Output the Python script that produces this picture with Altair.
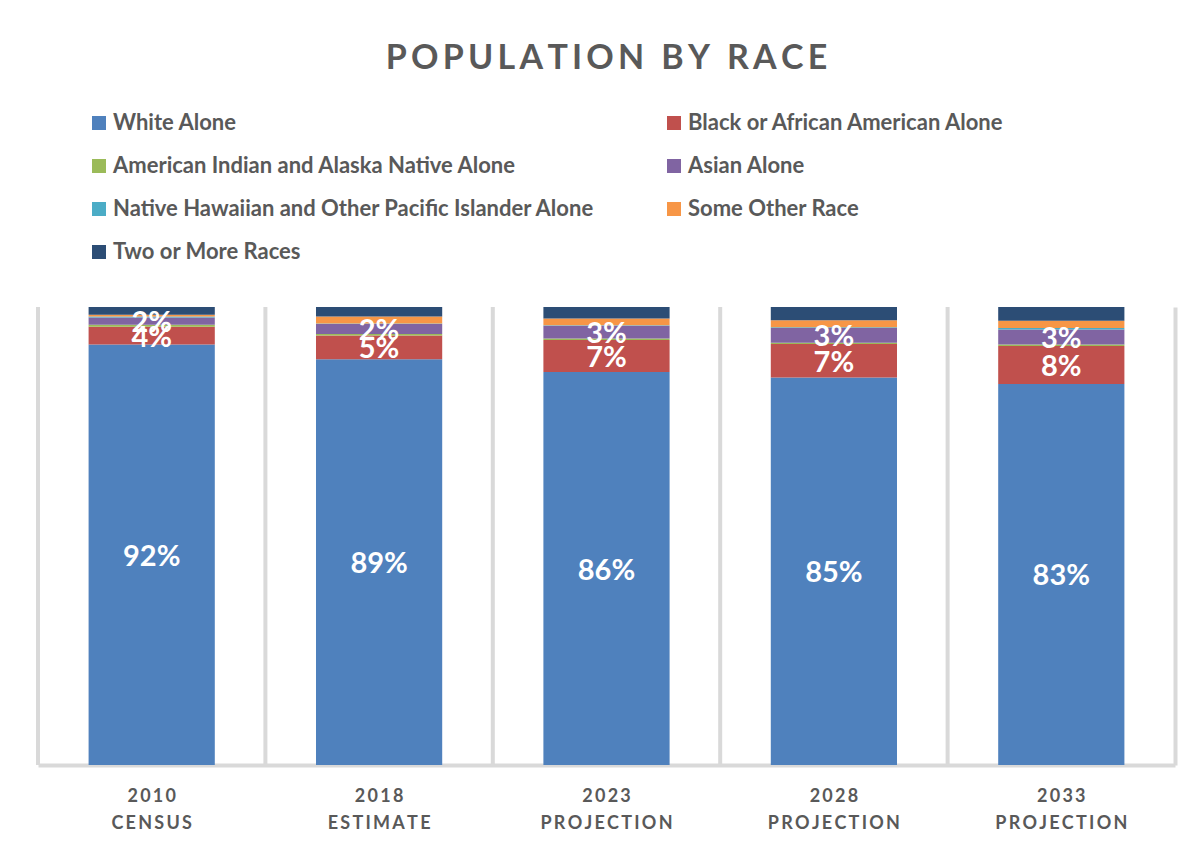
import altair as alt
import pandas as pd

categories = ["2010 CENSUS", "2018 ESTIMATE", "2023 PROJECTION", "2028 PROJECTION", "2033 PROJECTION"]
races = [
    "White Alone",
    "Black or African American Alone",
    "American Indian and Alaska Native Alone",
    "Asian Alone",
    "Native Hawaiian and Other Pacific Islander Alone",
    "Some Other Race",
    "Two or More Races",
]
colors = ["#4F81BD", "#C0504D", "#9BBB59", "#8064A2", "#4BACC6", "#F79646", "#2C4D75"]

white = [91.8, 88.6, 85.8, 84.6, 83.2]
black = [3.9, 5.2, 7.0, 7.3, 8.3]
am_indian = [0.4, 0.3, 0.3, 0.3, 0.3]
asian = [1.6, 2.2, 2.8, 3.2, 3.3]
hawaiian = [0.2, 0.1, 0.1, 0.2, 0.3]
other = [0.4, 1.5, 1.5, 1.5, 1.6]
two_more = [1.7, 2.1, 2.5, 2.9, 3.0]
labeled = ["White Alone", "Black or African American Alone", "Asian Alone"]

series = [white, black, am_indian, asian, hawaiian, other, two_more]
rows = []
for ri, (race, vals) in enumerate(zip(races, series)):
    for ci, cat in enumerate(categories):
        rows.append({"category": cat, "race": race, "order": ri, "value": vals[ci],
                     "show": race in labeled})
df = pd.DataFrame(rows)
cat_df = pd.DataFrame({"category": categories})

FONT = "Lato"
GRAY = "#595959"
LINE = "#D9D9D9"
TS = "\u2009"

def spaced(s):
    return TS.join(list(s))

base = alt.Chart(df).transform_stack(
    stack="value", groupby=["category"], as_=["v0", "v1"],
    sort=[alt.SortField("order", order="ascending")]
).transform_calculate(mid="(datum.v0 + datum.v1) / 2")

xscale = alt.Scale(paddingInner=0.445, paddingOuter=0.2225)
yscale = alt.Scale(domain=[0, 100], nice=False)

xenc = alt.X(
    "category:N", sort=categories, title=None, scale=xscale,
    axis=alt.Axis(
        labelAngle=0, labelFont=FONT, labelFontSize=18, labelFontWeight="bold",
        labelColor=GRAY, labelPadding=22, labelLineHeight=27,
        labelExpr="split(join(split(datum.label, ''), '\u2009'), '\u2009 \u2009')",
        ticks=False, domainColor=LINE, domainWidth=4, grid=False,
    ),
)

grid = alt.Chart(cat_df).mark_rule(color=LINE, strokeWidth=4).encode(
    x=alt.X("category:N", sort=categories, bandPosition=0,
            scale=alt.Scale(paddingInner=0, paddingOuter=0), axis=None),
    y=alt.datum(0, scale=yscale),
    y2=alt.datum(100),
)

bars = base.mark_bar().encode(
    x=xenc,
    y=alt.Y("v0:Q", scale=yscale,
            axis=alt.Axis(orient="right", labels=False, ticks=False, grid=False,
                          title=None, domainColor=LINE, domainWidth=4)),
    y2="v1:Q",
    color=alt.Color(
        "race:N", scale=alt.Scale(domain=races, range=colors),
        legend=alt.Legend(
            title=None, orient="none", legendX=50, legendY=-195, columns=2,
            direction="horizontal", columnPadding=68, rowPadding=21,
            symbolType="square", symbolSize=196, symbolStrokeWidth=0,
            labelFont=FONT, labelFontSize=22, labelFontWeight="bold",
            labelColor=GRAY, labelOffset=3, labelLimit=700, padding=0,
        ),
    ),
    order=alt.Order("order:Q"),
)

labels = base.transform_filter("datum.show").transform_calculate(
    pct="format(datum.value, '.0f') + '%'"
).mark_text(
    color="white", font=FONT, fontSize=29, fontWeight="bold", baseline="middle", dy=2
).encode(
    x=alt.X("category:N", sort=categories, scale=xscale, axis=None),
    y=alt.Y("mid:Q", scale=yscale),
    text="pct:N",
)

chart = alt.layer(grid, bars, labels).resolve_scale(x="independent").properties(
    width=1137, height=458,
    title=alt.TitleParams(spaced("POPULATION") + "\u2002" + spaced("BY") + "\u2002" + spaced("RACE"),
                          font=FONT, fontSize=34, fontWeight="bold", color=GRAY,
                          anchor="middle", offset=36),
    padding={"left": 30, "top": 299, "right": 17, "bottom": 75},
    autosize=alt.AutoSizeParams(type="none"),
).configure_view(stroke=None)

chart.save("out.html", embed_options={"renderer": "svg", "actions": False})
